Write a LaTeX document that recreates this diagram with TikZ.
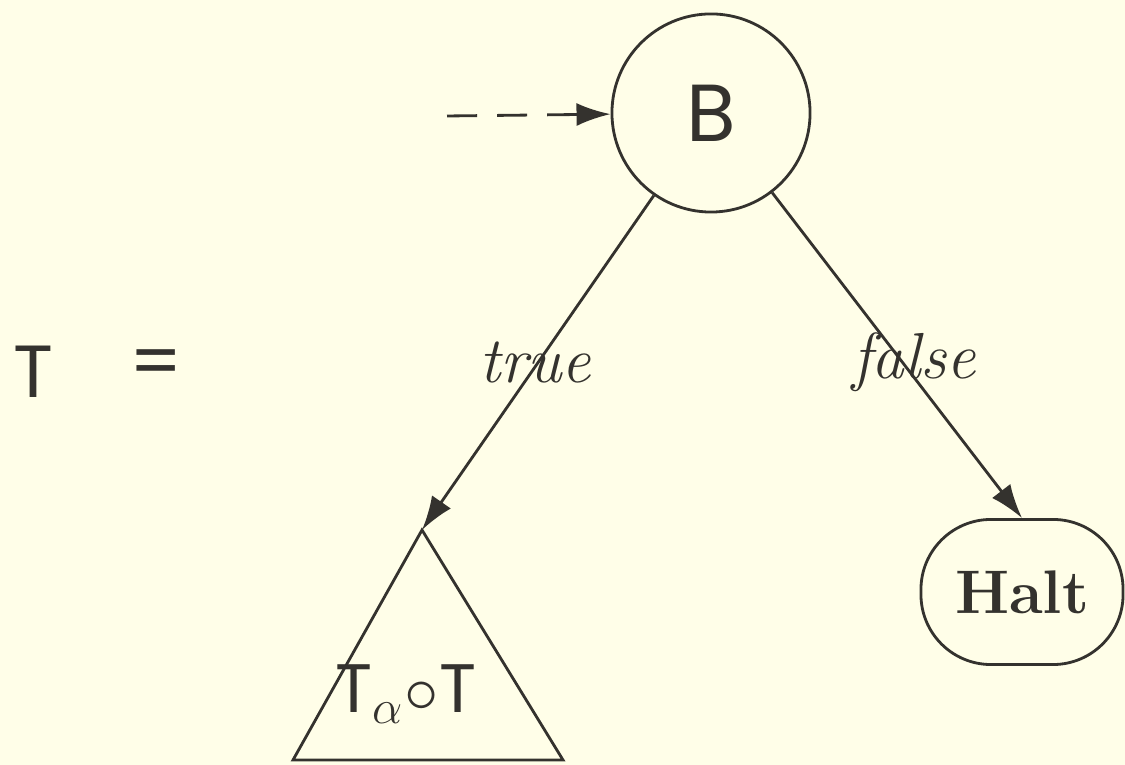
\documentclass[tikz,border=0pt]{standalone}
\usepackage{fix-cm}
\usepackage{fontspec}
\setsansfont{Poppins}
\usepackage{tikz}
\usetikzlibrary{arrows.meta, positioning, calc}
\definecolor{paper}{RGB}{255,254,232}
\definecolor{ink}{RGB}{52,50,46}

\begin{document}
\begin{tikzpicture}[x=0.01cm, y=-0.01cm, line width=0.8pt, color=ink,
  tip/.style={-{Latex[length=0.34cm,width=0.23cm]}},
  decision/.style={circle, draw, minimum size=1.98cm, inner sep=0pt, font=\sffamily\fontsize{23}{23}\selectfont},
  stopbox/.style={draw, rounded corners=0.7cm, minimum width=2.02cm, minimum height=1.45cm, font=\bfseries\fontsize{17.5}{18}\selectfont},
  edgelabel/.style={anchor=base, font=\itshape\fontsize{18.5}{19}\selectfont},
  bigsans/.style={font=\sffamily\fontsize{21}{21}\selectfont}]
  % paper
  \fill[paper] (0,0) rectangle (1125,765);
  % left hand side
  \node[bigsans] (lhs) at (33,372) {T};
  \node[bigsans] (eq) at (156,369) {=};
  % test node and entry
  \node[decision] (B) at (711,113) {B};
  \coordinate (entry) at (447,116);
  \draw[tip, dash pattern=on 0.3cm off 0.2cm] (entry) -- (B);
  % true branch: subtree
  \coordinate (apex) at (422,530);
  \draw (apex) -- (293,760) -- (563,760) -- cycle;
  \node[bigsans, anchor=base, font=\sffamily\fontsize{19.5}{20}\selectfont] (sub) at (406,713) {T$_{\alpha}$$\circ$T};
  \draw[tip] (B) -- (apex);
  \node[edgelabel] (true) at (535,383) {true};
  % false branch: halt
  \node[stopbox] (halt) at (1022,592) {Halt};
  \draw[tip] (B) -- (halt.north);
  \node[edgelabel] (false) at (914,379) {false};
\end{tikzpicture}
\end{document}
